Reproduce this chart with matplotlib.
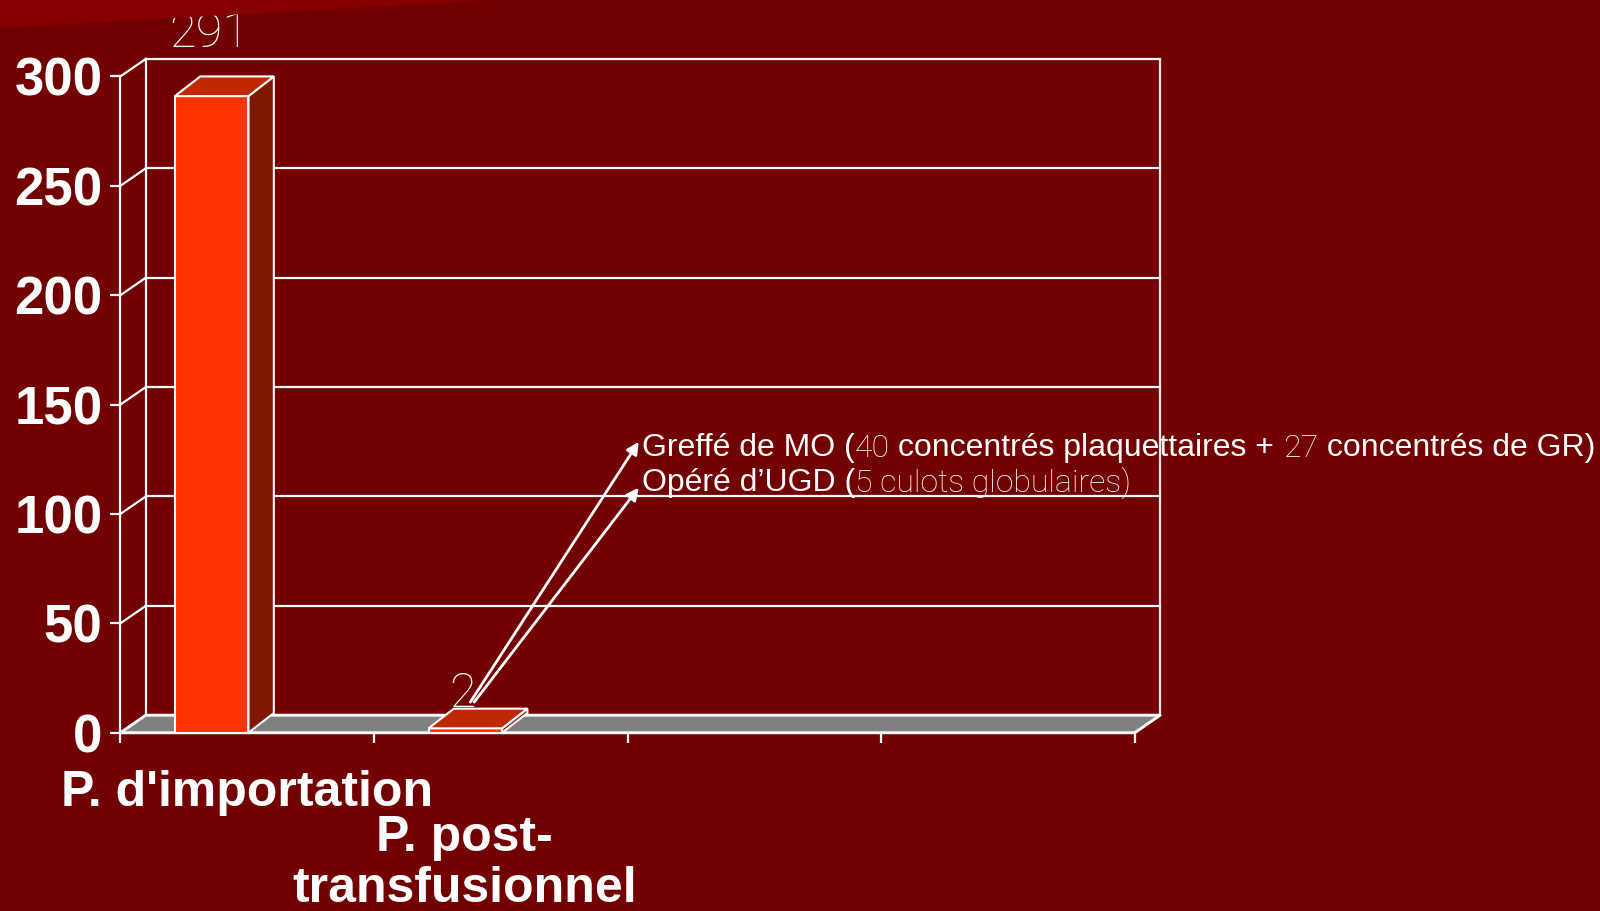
import numpy as np
import matplotlib.pyplot as plt
from matplotlib.patches import Polygon

# nombre de cas par catégorie (4 emplacements, 2 vides)
categories = ["P. d'importation", "P. post-\ntransfusionnel", "", ""]
valeurs = [291, 2]
yticks = [0, 50, 100, 150, 200, 250, 300]

fond = '#720000'
blanc = 'white'
face = '#ff3300'
cote = '#801800'
dessus = '#c02800'

fig = plt.figure(figsize=(16, 9.11), dpi=100)
fig.patch.set_facecolor(fond)

# bande plus claire en haut à gauche
fig.add_artist(Polygon([(0, 1), (490 / 1600, 1), (0, 1 - 28 / 911)],
                       closed=True, transform=fig.transFigure,
                       facecolor='#870000', edgecolor='none'))

ax = fig.add_axes([0.07525, 0.1957, 0.634, 0.7204])
ax.set_facecolor('none')
ax.set_xlim(0, 4)
ax.set_ylim(0, 300)

dx, dy = 0.1, 8        # profondeur du décor
bdx, bdy = 0.1, 9      # profondeur des barres

# sol gris
ax.add_patch(Polygon([(0, 0), (4, 0), (4 + dx, dy), (dx, dy)], closed=True,
                     facecolor='#808080', edgecolor=blanc, lw=2, clip_on=False, zorder=1))

# paroi du fond + quadrillage
for v in yticks:
    ax.plot([dx, 4 + dx], [v + dy, v + dy], color=blanc, lw=1.6, clip_on=False, zorder=2)
    ax.plot([0, dx], [v, v + dy], color=blanc, lw=1.6, clip_on=False, zorder=2)
ax.plot([dx, dx], [dy, 300 + dy], color=blanc, lw=1.6, clip_on=False, zorder=2)
ax.plot([4 + dx, 4 + dx], [dy, 300 + dy], color='#e8e8e8', lw=1.6, clip_on=False, zorder=2)
ax.plot([4, 4 + dx], [0, dy], color=blanc, lw=1.6, clip_on=False, zorder=2)

# barres 3D
x = np.arange(len(valeurs)) + 0.36
w = 0.29
bars = ax.bar(x, valeurs, width=w, color=face, edgecolor=blanc, lw=1.5, zorder=4)
for b, v in zip(bars, valeurs):
    x0, x1 = b.get_x(), b.get_x() + b.get_width()
    ax.add_patch(Polygon([(x1, 0), (x1 + bdx, bdy), (x1 + bdx, v + bdy), (x1, v)],
                         closed=True, facecolor=cote, edgecolor=blanc, lw=1.5,
                         clip_on=False, zorder=3))
    ax.add_patch(Polygon([(x0, v), (x0 + bdx, v + bdy), (x1 + bdx, v + bdy), (x1, v)],
                         closed=True, facecolor=dessus, edgecolor=blanc, lw=1.5,
                         clip_on=False, zorder=5))

# valeurs au-dessus des barres
maigre = 'Roboto'
decal = [18, 5]
for xi, v, d in zip(x, valeurs, decal):
    ax.text(xi - 0.01, v + d, str(v), ha='center', va='bottom', color=blanc,
            fontsize=35, family=maigre, fontweight='light', zorder=6)

# axes
for s in ['top', 'right']:
    ax.spines[s].set_visible(False)
for s in ['left', 'bottom']:
    ax.spines[s].set_color(blanc)
    ax.spines[s].set_linewidth(1.6)
ax.set_yticks(yticks)
ax.set_yticklabels([str(t) for t in yticks], fontsize=38, fontweight='bold',
                   family='Liberation Sans', color=blanc)
ax.set_xticks(np.arange(5))
ax.set_xticklabels([])
ax.tick_params(colors=blanc, length=7, width=1.6, direction='out')
ax.tick_params(axis='y', pad=6)

# libellés des catégories, en quinconce
decal_lib = [(0, -27), (-26, -59)]
for i, (c, d) in enumerate(zip(categories, decal_lib)):
    ax.annotate(c, (i + 0.5, 0), xycoords='data', xytext=d,
                textcoords='offset points', ha='center', va='top',
                fontsize=36, fontweight='bold', family='Liberation Sans',
                color=blanc, linespacing=1.15, multialignment='center')

# flèches vers les commentaires
fleche = dict(arrowstyle='-|>', color=blanc, lw=2, mutation_scale=18, shrinkA=0, shrinkB=0)
depart = (1.38, 14)
ax.annotate('', xy=(2.044, 133), xytext=depart, arrowprops=fleche)
ax.annotate('', xy=(2.044, 112), xytext=(depart[0] + 0.015, depart[1]), arrowprops=fleche)

# texte en plusieurs morceaux (chiffres en maigre)
lignes = [
    [("Greffé de MO (", 'normal'), ("40", 'light'), (" concentrés plaquettaires + ", 'normal'),
     ("27", 'light'), (" concentrés de GR)", 'normal')],
    [("Opéré d’UGD (", 'normal'), ("5 culots globulaires)", 'light')],
]
fig.canvas.draw()
r = fig.canvas.get_renderer()
y_lignes = [130, 114]
for morceaux, yl in zip(lignes, y_lignes):
    px, py = ax.transData.transform((2.055, yl))
    for txt, poids in morceaux:
        fam = 'Liberation Sans' if poids == 'normal' else maigre
        tt = fig.text(px / fig.dpi / 16, py / fig.dpi / 9.11, txt, ha='left', va='center',
                      fontsize=23, family=fam, fontweight=poids, color=blanc)
        bb = tt.get_window_extent(renderer=r)
        px += bb.width

fig.savefig('out.png', dpi=100, facecolor=fond)
